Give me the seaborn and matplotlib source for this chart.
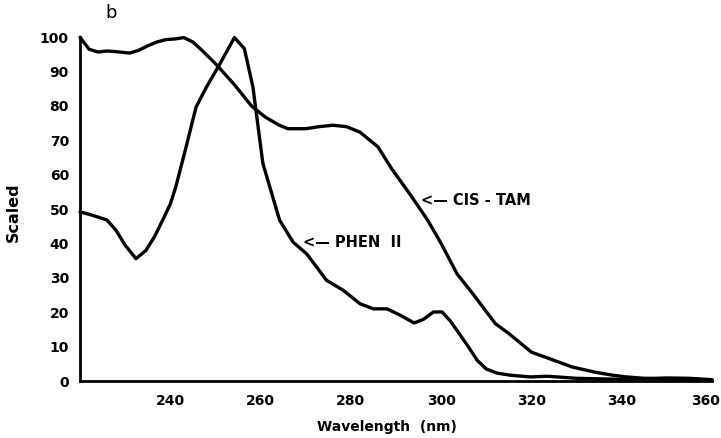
import matplotlib
matplotlib.use("Agg")
import matplotlib.pyplot as plt
from matplotlib.ticker import MultipleLocator
from matplotlib.transforms import ScaledTranslation
import seaborn as sns
import pandas as pd

# --- data -------------------------------------------------------------
cis_x = [220, 222, 224, 226, 228, 231, 233, 235, 237, 239, 241, 243, 245, 247,
         250, 254, 258, 261, 264, 266, 270, 273, 276, 279, 282, 286, 289, 293,
         297, 300, 303.5, 307, 312, 315, 320, 324, 329, 334, 338, 341, 345, 350,
         355, 360]
cis_y = [100, 96.5, 95.7, 96, 95.8, 95.4, 96.2, 97.5, 98.6, 99.3, 99.5, 99.9,
         98.6, 96.2, 92.3, 86.5, 80, 76.8, 74.5, 73.4, 73.4, 74, 74.4, 74, 72.4,
         68.1, 61.8, 54.5, 46.8, 40, 31.2, 25.4, 16.7, 13.8, 8.4, 6.5, 4.1, 2.6,
         1.7, 1.2, 0.8, 0.6, 0.5, 0.3]

phen_x = [220, 222, 224, 226, 228, 230, 232.4, 234.6, 236.5, 238.3, 240, 241.2,
          243.5, 245.7, 248, 251, 254.2, 256.4, 258.3, 260.5, 262.7, 264.2,
          267.2, 270.2, 272.5, 274.6, 278.3, 282, 285, 288, 291, 294, 296, 298.3,
          300.2, 302, 304, 306, 308, 310, 312.4, 315.3, 319.8, 323.5, 330, 340,
          345, 350, 355, 360]
phen_y = [49.2, 48.5, 47.7, 46.8, 43.8, 39.5, 35.6, 38, 42, 46.8, 51.5, 56.4,
          68.1, 79.7, 85.5, 92.3, 99.9, 96.7, 85.5, 63.3, 53.5, 46.8, 40.4, 37,
          33, 29.3, 26.4, 22.5, 21, 21, 19.1, 16.9, 17.9, 20.1, 20.1, 17.5, 13.8,
          10, 6, 3.5, 2.3, 1.7, 1.2, 1.4, 0.8, 0.5, 0.7, 0.9, 0.8, 0.4]

series_names = ["CIS-TAM", "PHEN II"]
x_ticks = [240, 260, 280, 300, 320, 340, 360]
y_ticks = [0, 10, 20, 30, 40, 50, 60, 70, 80, 90, 100]

df = pd.concat([
    pd.DataFrame({"Wavelength": cis_x, "Scaled": cis_y, "series": series_names[0]}),
    pd.DataFrame({"Wavelength": phen_x, "Scaled": phen_y, "series": series_names[1]}),
], ignore_index=True)

# --- plot -------------------------------------------------------------
sns.set_style("white")
plt.rcParams["font.family"] = ["DejaVu Sans"]
plt.rcParams["text.color"] = "black"
plt.rcParams["axes.labelcolor"] = "black"
plt.rcParams["xtick.color"] = "black"
plt.rcParams["ytick.color"] = "black"

fig = plt.figure(figsize=(7.21, 4.38), dpi=100)
ax = fig.add_axes([0.111, 0.130, 0.8766, 0.785])

sns.lineplot(data=df, x="Wavelength", y="Scaled", hue="series",
             palette=["black", "black"], estimator=None, sort=False,
             linewidth=2.4, legend=False, ax=ax, clip_on=False)

ax.set_xlim(220, 360)
ax.set_ylim(0, 100)
ax.set_xticks(x_ticks)
ax.set_yticks(y_ticks)
ax.xaxis.set_minor_locator(MultipleLocator(5))

for s in ["top", "right"]:
    ax.spines[s].set_visible(False)
for s in ["left", "bottom"]:
    ax.spines[s].set_linewidth(2.0)
    ax.spines[s].set_color("black")

ax.tick_params(axis="both", which="major", direction="out", length=5,
               width=1.8, colors="black", labelcolor="black", labelsize=10, pad=4)
ax.tick_params(axis="x", which="minor", direction="out", length=3,
               width=1.5, colors="black")
ax.tick_params(axis="y", which="major", length=4)
for lab in ax.get_xticklabels() + ax.get_yticklabels():
    lab.set_fontweight("bold")
last = ax.get_xticklabels()[-1]
last.set_transform(last.get_transform() + ScaledTranslation(-6 / 100, 0, fig.dpi_scale_trans))

ax.set_xlabel("Wavelength  (nm)", fontsize=10, fontweight="bold", labelpad=9,
              color="black")
ax.set_ylabel("Scaled", fontsize=11.5, fontweight="bold", color="black")
ax.xaxis.label.set_position((0.485, 0))
ax.yaxis.set_label_coords(-0.093, 0.49)

ax.text(0.04, 1.07, "b", transform=ax.transAxes, fontsize=13,
        ha="left", va="center", color="black")

ax.text(295.6, 52.5, "<— CIS - TAM", fontsize=10.5, fontweight="bold",
        ha="left", va="center", color="black")
ax.text(269.3, 40.3, "<— PHEN  II", fontsize=10.5, fontweight="bold",
        ha="left", va="center", color="black")

fig.savefig("out.png", dpi=100, facecolor="white")
